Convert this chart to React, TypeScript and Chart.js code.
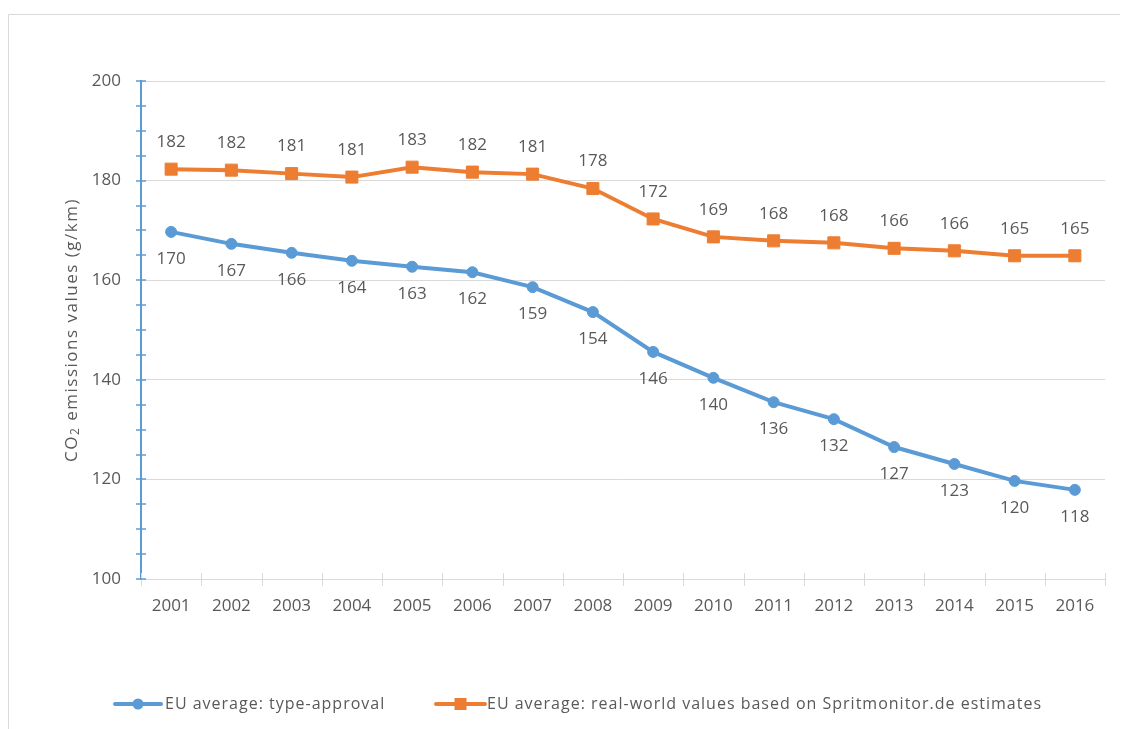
import { useEffect, useRef } from 'react';
import { Chart, registerables } from 'chart.js';

Chart.register(...registerables);

const years = ['2001', '2002', '2003', '2004', '2005', '2006', '2007', '2008', '2009', '2010', '2011', '2012', '2013', '2014', '2015', '2016'];
const typeApproval = [169.7, 167.3, 165.5, 163.9, 162.7, 161.6, 158.6, 153.6, 145.6, 140.4, 135.5, 132.1, 126.5, 123.1, 119.7, 117.9];
const realWorld = [182.3, 182.1, 181.4, 180.7, 182.7, 181.7, 181.3, 178.4, 172.3, 168.7, 167.9, 167.5, 166.4, 165.9, 164.9, 164.9];
const seriesNames = ['EU average: type-approval', 'EU average: real-world values based on Spritmonitor.de estimates'];
const yMin = 100;
const yMax = 200;
const yStep = 20;
const yMinorStep = 5;

const FONT = '"Open Sans", sans-serif';
const TEXT = '#595959';
const BLUE = '#5b9bd5';
const ORANGE = '#ed7d31';
const GRID = '#d9d9d9';

const decorPlugin = {
  id: 'decor',
  afterDatasetsDraw(chart: any) {
    const ctx = chart.ctx;
    ctx.save();
    ctx.font = `17px ${FONT}`;
    ctx.fillStyle = TEXT;
    ctx.textAlign = 'center';
    ctx.textBaseline = 'middle';
    chart.data.datasets.forEach((ds: any, di: number) => {
      const meta = chart.getDatasetMeta(di);
      meta.data.forEach((pt: any, i: number) => {
        const v = Math.round(ds.data[i]);
        const dy = di === 0 ? 27 : -27;
        ctx.fillText(String(v), pt.x, pt.y + dy);
      });
    });
    ctx.restore();
  },
  afterDraw(chart: any) {
    const ctx = chart.ctx;
    const { left, right, bottom } = chart.chartArea;
    const yScale = chart.scales.y;
    ctx.save();
    // outer border
    ctx.strokeStyle = GRID;
    ctx.lineWidth = 1;
    ctx.beginPath();
    ctx.moveTo(0.5, chart.height);
    ctx.lineTo(0.5, 6.5);
    ctx.lineTo(chart.width, 6.5);
    ctx.stroke();
    // x tick marks
    const n = years.length;
    ctx.strokeStyle = GRID;
    ctx.lineWidth = 1;
    for (let i = 0; i <= n; i++) {
      const x = Math.round(left + (i * (right - left)) / n) + 0.5;
      ctx.beginPath();
      ctx.moveTo(x, bottom - 6);
      ctx.lineTo(x, bottom + 7);
      ctx.stroke();
    }
    // y tick marks
    ctx.strokeStyle = BLUE;
    ctx.lineWidth = 1.5;
    for (let v = yMin; v <= yMax; v += yMinorStep) {
      const y = Math.round(yScale.getPixelForValue(v));
      ctx.beginPath();
      ctx.moveTo(left - 5, y);
      ctx.lineTo(left + 5, y);
      ctx.stroke();
    }
    // y title
    ctx.fillStyle = TEXT;
    ctx.textBaseline = 'middle';
    ctx.textAlign = 'left';
    ctx.letterSpacing = '1.5px';
    ctx.translate(64, (chart.chartArea.top + bottom) / 2);
    ctx.rotate(-Math.PI / 2);
    const big = `17px ${FONT}`;
    const small = `12px ${FONT}`;
    const p1 = 'CO';
    const p2 = '2';
    const p3 = ' emissions values (g/km)';
    ctx.font = big;
    const w1 = ctx.measureText(p1).width;
    const w3 = ctx.measureText(p3).width;
    ctx.font = small;
    const w2 = ctx.measureText(p2).width;
    let x0 = -(w1 + w2 + w3) / 2;
    ctx.font = big;
    ctx.fillText(p1, x0, 0);
    x0 += w1;
    ctx.font = small;
    ctx.fillText(p2, x0, 4);
    x0 += w2;
    ctx.font = big;
    ctx.fillText(p3, x0, 0);
    ctx.setTransform(1, 0, 0, 1, 0, 0);
    // legend
    const ly = 696;
    const items = [
      { x1: 107, x2: 153, color: BLUE, shape: 'circle', tx: 157, label: chart.data.datasets[0].label },
      { x1: 428, x2: 477, color: ORANGE, shape: 'rect', tx: 479, label: chart.data.datasets[1].label },
    ];
    items.forEach((it) => {
      ctx.strokeStyle = it.color;
      ctx.fillStyle = it.color;
      ctx.lineWidth = 4;
      ctx.lineCap = 'round';
      ctx.beginPath();
      ctx.moveTo(it.x1, ly);
      ctx.lineTo(it.x2, ly);
      ctx.stroke();
      const cx = (it.x1 + it.x2) / 2;
      if (it.shape === 'circle') {
        ctx.beginPath();
        ctx.arc(cx, ly, 5.5, 0, Math.PI * 2);
        ctx.fill();
      } else {
        ctx.fillRect(cx - 6, ly - 6, 12, 12);
      }
      ctx.fillStyle = TEXT;
      ctx.font = `16px ${FONT}`;
      ctx.letterSpacing = '1px';
      ctx.textAlign = 'left';
      ctx.textBaseline = 'middle';
      ctx.fillText(it.label, it.tx, ly);
    });
    ctx.restore();
  },
};

export default function App() {
  const ref = useRef<HTMLCanvasElement | null>(null);
  useEffect(() => {
    if (!ref.current) return;
    const chart = new Chart(ref.current, {
      type: 'line',
      data: {
        labels: years,
        datasets: [
          {
            label: seriesNames[0],
            data: typeApproval,
            borderColor: BLUE,
            backgroundColor: BLUE,
            borderWidth: 4,
            pointStyle: 'circle',
            pointRadius: 5.5,
            pointBorderWidth: 1,
            pointBackgroundColor: BLUE,
            pointBorderColor: BLUE,
            tension: 0,
          },
          {
            label: seriesNames[1],
            data: realWorld,
            borderColor: ORANGE,
            backgroundColor: ORANGE,
            borderWidth: 4,
            pointStyle: 'rect',
            pointRadius: 8.5,
            pointBorderWidth: 1,
            pointBackgroundColor: ORANGE,
            pointBorderColor: ORANGE,
            tension: 0,
          },
        ],
      },
      options: {
        responsive: false,
        animation: false,
        layout: { padding: { top: 73, right: 15, bottom: 110, left: 0 } },
        plugins: {
          legend: { display: false },
          tooltip: { enabled: false },
          title: { display: false },
        },
        scales: {
          x: {
            type: 'category',
            offset: true,
            grid: { display: false, drawTicks: false },
            border: { display: true, color: GRID, width: 1 },
            ticks: {
              color: TEXT,
              font: { family: FONT, size: 17 },
              padding: 17,
              maxRotation: 0,
              autoSkip: false,
            },
            afterFit: (s: any) => {
              s.height = 40;
            },
          },
          y: {
            min: yMin,
            max: yMax,
            ticks: {
              stepSize: yStep,
              color: TEXT,
              font: { family: FONT, size: 17 },
              padding: 20,
            },
            grid: { color: GRID, lineWidth: 1, drawTicks: false },
            border: { display: true, color: BLUE, width: 2 },
            afterFit: (s: any) => {
              s.width = 133;
            },
          },
        },
      },
      plugins: [decorPlugin],
    });
    return () => chart.destroy();
  }, []);
  return (
    <div style={{ width: 1112, height: 721 }}>
      <canvas ref={ref} width={1112} height={721} style={{ display: 'block' }} />
    </div>
  );
}
